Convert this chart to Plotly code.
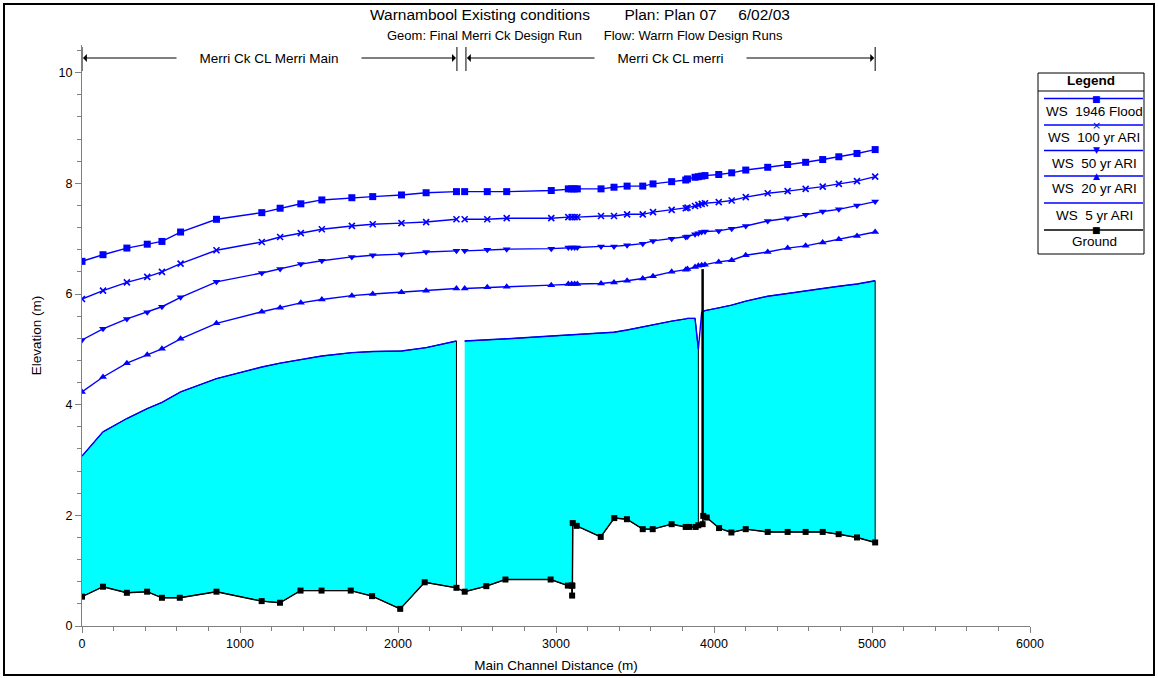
import plotly.graph_objects as go

# ---------------- data ----------------
ws_station = [0, 133, 284, 413, 506, 624, 851, 1138, 1254, 1385, 1518, 1708, 1840, 2022, 2178, 2370, None,
              2422, 2565, 2688, 2970, 3078, 3099, 3118, 3135, 3285, 3367, 3450, 3549, 3614,
              3732, 3821, 3832, 3880, 3901, 3922, 3943, 4030, 4112, 4201, 4340, 4466, 4580, 4688, 4790, 4905, 5020]

ws_1946 = [6.59, 6.71, 6.83, 6.90, 6.95, 7.12, 7.35, 7.47, 7.55, 7.63, 7.70, 7.74, 7.76, 7.79, 7.83, 7.85, None,
           7.85, 7.85, 7.85, 7.87, 7.90, 7.90, 7.90, 7.90, 7.90, 7.93, 7.95, 7.95, 7.99,
           8.03, 8.06, 8.08, 8.11, 8.12, 8.13, 8.14, 8.16, 8.19, 8.24, 8.29, 8.34, 8.38, 8.43, 8.48, 8.54, 8.61]
ws_100 = [5.91, 6.06, 6.21, 6.31, 6.40, 6.55, 6.79, 6.94, 7.03, 7.10, 7.17, 7.23, 7.26, 7.28, 7.30, 7.35, None,
          7.35, 7.35, 7.37, 7.37, 7.39, 7.39, 7.39, 7.39, 7.41, 7.41, 7.44, 7.44, 7.48,
          7.52, 7.55, 7.56, 7.59, 7.61, 7.63, 7.64, 7.66, 7.69, 7.75, 7.82, 7.86, 7.90, 7.94, 7.99, 8.04, 8.12]
ws_50 = [5.17, 5.37, 5.55, 5.67, 5.77, 5.94, 6.22, 6.38, 6.45, 6.54, 6.60, 6.67, 6.70, 6.72, 6.76, 6.78, None,
         6.78, 6.80, 6.81, 6.82, 6.84, 6.84, 6.84, 6.84, 6.86, 6.86, 6.88, 6.91, 6.96,
         7.00, 7.03, 7.04, 7.08, 7.10, 7.12, 7.13, 7.14, 7.18, 7.23, 7.32, 7.37, 7.43, 7.49, 7.53, 7.60, 7.67]
ws_20 = [4.23, 4.50, 4.75, 4.90, 5.01, 5.19, 5.47, 5.68, 5.75, 5.84, 5.90, 5.97, 6.00, 6.03, 6.06, 6.10, None,
         6.10, 6.12, 6.13, 6.16, 6.18, 6.18, 6.18, 6.18, 6.19, 6.21, 6.24, 6.28, 6.32,
         6.40, 6.44, 6.45, 6.49, 6.51, 6.52, 6.53, 6.58, 6.61, 6.70, 6.76, 6.83, 6.87, 6.93, 6.99, 7.05, 7.12]
ws_5 = [3.07, 3.51, 3.75, 3.93, 4.04, 4.23, 4.47, 4.68, 4.75, 4.82, 4.88, 4.94, 4.96, 4.97, 5.03, 5.15, None,
        5.15, 5.17, 5.19, 5.24, 5.26, 5.26, 5.27, 5.27, 5.29, 5.31, 5.35, 5.41, 5.45,
        5.51, 5.55, 5.56, 5.56, 5.00, 5.67, 5.70, 5.75, 5.80, 5.87, 5.96, 6.01, 6.05, 6.10, 6.14, 6.18, 6.24]

ground_station = [0, 133, 284, 412, 506, 619, 851, 1137, 1253, 1383, 1516, 1701, 1836, 2014, 2169, 2370,
                  2422, 2559, 2680, 2966, 3075, 3100, 3102, 3104, 3106, 3131, 3283, 3369, 3449, 3549, 3612,
                  3732, 3821, 3844, 3884, 3901, 3928, 3932, 3954, 4032, 4110, 4201, 4340, 4466, 4580, 4688,
                  4789, 4905, 5020]
ground_elev = [0.53, 0.71, 0.60, 0.62, 0.51, 0.51, 0.62, 0.45, 0.42, 0.64, 0.64, 0.64, 0.54, 0.31, 0.79, 0.69,
               0.62, 0.72, 0.84, 0.84, 0.73, 0.73, 0.55, 0.73, 1.86, 1.81, 1.61, 1.95, 1.93, 1.75, 1.75,
               1.84, 1.79, 1.79, 1.79, 1.82, 1.84, 1.99, 1.96, 1.77, 1.69, 1.75, 1.70, 1.70, 1.70, 1.70,
               1.66, 1.60, 1.51]

# bridge / weir structure drawn in the ground line
bridge_station = [3928, 3928]
bridge_elev = [1.99, 6.45]

# water-filled segments (reach / bridge limits)
fill_segments = [(0, 2370), (2422, 3901), (3910, 5020)]

# reach extents
reaches = [("Merri Ck CL Merri Main", 0, 2373), ("Merri Ck CL merri", 2430, 5020)]

profiles = [
    ("WS  1946 Flood", ws_1946, "square"),
    ("WS  100 yr ARI", ws_100, "x-thin"),
    ("WS  50 yr ARI", ws_50, "triangle-down"),
    ("WS  20 yr ARI", ws_20, "triangle-up"),
]

FONT = "Liberation Sans, Arial, sans-serif"
BLUE = "#0000FF"
TXT = 13.5

fig = go.Figure()

# cyan water polygons (WS 5 yr down to ground)
for lo, hi in fill_segments:
    top = [(x, y) for x, y in zip(ws_station, ws_5) if x is not None and lo <= x <= hi]
    bot = [(x, y) for x, y in zip(ground_station, ground_elev) if lo <= x <= hi][::-1]
    pts = top + bot
    fig.add_trace(go.Scatter(
        x=[p[0] for p in pts], y=[p[1] for p in pts], mode="lines", fill="toself",
        fillcolor="#00FFFF", line=dict(color="black", width=1), showlegend=False, hoverinfo="skip"))

# WS 5 yr line
fig.add_trace(go.Scatter(x=ws_station, y=ws_5, mode="lines", line=dict(color=BLUE, width=1.4),
                         showlegend=False, connectgaps=False))

for name, vals, sym in profiles:
    mk = dict(symbol=sym, size=7, color=BLUE)
    if sym == "x-thin":
        mk = dict(symbol=sym, size=6, color=BLUE, line=dict(color=BLUE, width=1.6))
    fig.add_trace(go.Scatter(x=ws_station, y=vals, mode="lines+markers", name=name,
                             line=dict(color=BLUE, width=1.4), marker=mk, showlegend=False,
                             connectgaps=False))

# bridge spike
fig.add_trace(go.Scatter(x=bridge_station, y=bridge_elev, mode="lines",
                         line=dict(color="black", width=2.5), showlegend=False))

# ground
fig.add_trace(go.Scatter(x=ground_station, y=ground_elev, mode="lines+markers", name="Ground",
                         line=dict(color="black", width=1.4),
                         marker=dict(symbol="square", size=6, color="black"), showlegend=False))

# ---------------- layout ----------------
W, H = 1158, 678
L, T, PW, PH = 82, 45, 948, 581
YMAX = 10.5


def PX(px):
    return (px - L) / PW


def PY(py):
    return (T + PH - py) / PH


def Yd(py):
    return (T + PH - py) / PH * YMAX


shapes = []
annotations = []

# outer frame
shapes.append(dict(type="rect", xref="paper", yref="paper", x0=PX(4), x1=PX(1154), y0=PY(675), y1=PY(4),
                   line=dict(color="black", width=2), layer="below"))

# reach markers
y_arrow = Yd(58)
for label, a, b in reaches:
    for xx in (a, b):
        shapes.append(dict(type="line", xref="x", yref="y", x0=xx, x1=xx, y0=Yd(71), y1=Yd(47),
                           line=dict(color="black", width=1)))
    mid = (a + b) / 2
    for end in (a, b):
        annotations.append(dict(x=end, y=y_arrow, ax=mid, ay=y_arrow, xref="x", yref="y", axref="x",
                                ayref="y", text="", showarrow=True, arrowhead=1, arrowsize=1.3,
                                arrowwidth=1, arrowcolor="black", standoff=1))
    pad = "&nbsp;" * 6
    annotations.append(dict(x=mid, y=y_arrow, xref="x", yref="y", text=pad + label + pad, showarrow=False,
                            bgcolor="white", borderpad=0,
                            font=dict(family=FONT, size=TXT, color="black"),
                            xanchor="center", yanchor="middle"))

# title
annotations.append(dict(x=PX(368), y=PY(15), xref="paper", yref="paper", showarrow=False,
                        text="Warnambool Existing conditions" + "&nbsp;" * 8 + "Plan: Plan 07" + "&nbsp;" * 5 + "6/02/03",
                        font=dict(family=FONT, size=15.5, color="black"), xanchor="left", yanchor="middle"))
annotations.append(dict(x=PX(385), y=PY(36), xref="paper", yref="paper", showarrow=False,
                        text="Geom: Final Merri Ck Design Run" + "&nbsp;" * 6 + "Flow: Warrn Flow Design Runs",
                        font=dict(family=FONT, size=13, color="black"), xanchor="left", yanchor="middle"))

# custom legend box
lx0, lx1, ly0, ly1 = 1038, 1144, 73, 254
shapes.append(dict(type="rect", xref="paper", yref="paper", x0=PX(lx0), x1=PX(lx1), y0=PY(ly1), y1=PY(ly0),
                   line=dict(color="black", width=1), fillcolor="white"))
shapes.append(dict(type="line", xref="paper", yref="paper", x0=PX(lx0), x1=PX(lx1), y0=PY(91), y1=PY(91),
                   line=dict(color="black", width=1)))
annotations.append(dict(x=PX(1091), y=PY(81), xref="paper", yref="paper", showarrow=False, text="<b>Legend</b>",
                        font=dict(family=FONT, size=TXT, color="black"), xanchor="center", yanchor="middle"))

legend_items = [
    ("WS  1946 Flood", BLUE, "■"),
    ("WS  100 yr ARI", BLUE, "×"),
    ("WS  50 yr ARI", BLUE, "▼"),
    ("WS  20 yr ARI", BLUE, "▲"),
    ("WS  5 yr ARI", BLUE, ""),
    ("Ground", "black", "■"),
]
line_py = [98.5, 125, 150.5, 176, 203, 230]
text_py = [111.5, 137.5, 163, 188.5, 215, 241.5]
for (txt, col, glyph), lp, tp in zip(legend_items, line_py, text_py):
    shapes.append(dict(type="line", xref="paper", yref="paper", x0=PX(1044), x1=PX(1143), y0=PY(lp), y1=PY(lp),
                       line=dict(color=col, width=1.4)))
    if glyph:
        annotations.append(dict(x=PX(1096), y=PY(lp), xref="paper", yref="paper", showarrow=False, text=glyph,
                                font=dict(family="DejaVu Sans", size=9 if glyph != "×" else 11, color=col),
                                xanchor="center", yanchor="middle"))
    annotations.append(dict(x=PX(1094), y=PY(tp), xref="paper", yref="paper", showarrow=False,
                            text=txt.replace("  ", " &nbsp;"),
                            font=dict(family=FONT, size=TXT, color="black"), xanchor="center", yanchor="middle"))

axis_col = "#808080"
fig.update_layout(
    width=W, height=H,
    margin=dict(l=L, r=W - L - PW, t=T, b=H - T - PH, pad=0, autoexpand=False),
    paper_bgcolor="white", plot_bgcolor="white",
    showlegend=False,
    font=dict(family=FONT, size=12, color="black"),
    xaxis=dict(range=[0, 6000], tickmode="array", tickvals=[0, 1000, 2000, 3000, 4000, 5000, 6000],
               ticks="outside", ticklen=6, tickcolor=axis_col, showline=True, linecolor=axis_col, linewidth=1,
               showgrid=False, zeroline=False, automargin=False,
               minor=dict(tickmode="linear", tick0=0, dtick=200, ticks="outside", ticklen=4, tickcolor=axis_col,
                          showgrid=False),
               title=dict(text="Main Channel Distance (m)", standoff=10, font=dict(size=TXT)),
               tickfont=dict(size=12.5)),
    yaxis=dict(range=[0, YMAX], tickmode="array", tickvals=[0, 2, 4, 6, 8, 10],
               ticks="outside", ticklen=6, tickcolor=axis_col, showline=True, linecolor=axis_col, linewidth=1,
               showgrid=False, zeroline=False, automargin=False,
               minor=dict(tickmode="linear", tick0=0, dtick=0.4, ticks="outside", ticklen=4, tickcolor=axis_col,
                          showgrid=False),
               title=dict(text="Elevation (m)", standoff=13, font=dict(size=TXT)),
               tickfont=dict(size=12.5)),
    shapes=shapes,
    annotations=annotations,
)

fig.write_html("out.html", config={"displayModeBar": False},
               post_script="document.body.style.margin='0px';")
